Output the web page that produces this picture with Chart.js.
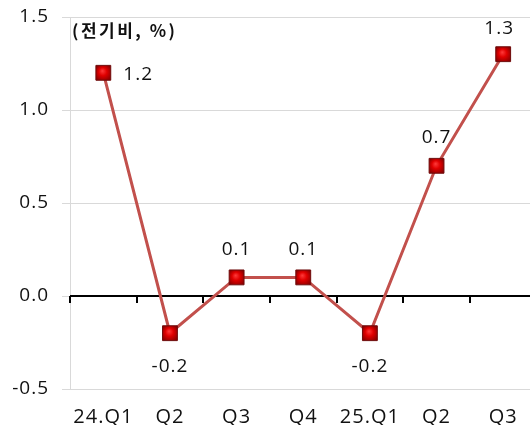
<!DOCTYPE html>
<html>
<head>
<meta charset="utf-8">
<script src="https://cdn.jsdelivr.net/npm/chart.js@4/dist/chart.umd.min.js"></script>
<style>
html,body{margin:0;padding:0;background:#fff;overflow:hidden;}
canvas{display:block;}
</style>
</head>
<body>
<canvas id="c" width="548" height="425" style="width:548px;height:425px"></canvas>
<script>
const categories = ['24.Q1','Q2','Q3','Q4','25.Q1','Q2','Q3'];
const values = [1.2, -0.2, 0.1, 0.1, -0.2, 0.7, 1.3];
const yTicks = [-0.5, 0.0, 0.5, 1.0, 1.5];
const unitLabel = '(전기비, %)';
const labelSide = ['right','below','above','above','below','above','above'];

const NUMFONT = "'Open Sans', 'Noto Sans', sans-serif";
const KRFONT = "'Noto Sans CJK KR', 'Noto Sans', sans-serif";

const markerFill = (ctx) => {
  const chart = ctx.chart;
  const xs = chart.scales.x, ys = chart.scales.y;
  if (!xs || !ys || ctx.type !== 'data') return '#cc0000';
  const px = xs.getPixelForValue(ctx.dataIndex);
  const py = ys.getPixelForValue(ctx.raw);
  if (!isFinite(px) || !isFinite(py)) return '#cc0000';
  const g = chart.ctx.createRadialGradient(px - 1, py - 2, 0, px, py, 9);
  g.addColorStop(0, '#ff3a3a');
  g.addColorStop(0.45, '#e00000');
  g.addColorStop(1, '#8a0000');
  return g;
};

const spacing = {
  id: 'spacing',
  beforeInit(chart) { chart.ctx.letterSpacing = '1px'; },
  beforeLayout(chart) { chart.ctx.letterSpacing = '1px'; },
  beforeDraw(chart) { chart.ctx.letterSpacing = '1px'; }
};

const extras = {
  id: 'extras',
  beforeDatasetsDraw(chart) {
    const {ctx, chartArea, scales} = chart;
    const ys = scales.y;
    const y0 = ys.getPixelForValue(0);
    ctx.save();
    ctx.strokeStyle = '#000';
    ctx.lineWidth = 2;
    ctx.beginPath();
    ctx.moveTo(chartArea.left, y0);
    ctx.lineTo(chartArea.right, y0);
    ctx.stroke();
    const n = categories.length;
    const w = (chartArea.right - chartArea.left) / n;
    for (let i = 0; i <= n; i++) {
      const x = Math.round(chartArea.left + i * w);
      ctx.beginPath();
      ctx.moveTo(x, y0);
      ctx.lineTo(x, y0 + 7);
      ctx.stroke();
    }
    ctx.fillStyle = '#111';
    ctx.font = "bold 17px " + KRFONT;
    ctx.letterSpacing = '2.5px';
    ctx.textAlign = 'left';
    ctx.textBaseline = 'middle';
    ctx.fillText(unitLabel, chartArea.left + 2, 31);
    ctx.restore();
  },
  afterDatasetsDraw(chart) {
    const {ctx} = chart;
    const meta = chart.getDatasetMeta(0);
    ctx.save();
    ctx.fillStyle = '#111';
    ctx.font = "19px " + NUMFONT;
    ctx.letterSpacing = '1px';
    ctx.textBaseline = 'middle';
    meta.data.forEach((pt, i) => {
      const txt = values[i].toFixed(1);
      const side = labelSide[i];
      if (side === 'right') {
        ctx.textAlign = 'left';
        ctx.fillText(txt, pt.x + 20, pt.y + 2);
      } else if (side === 'below') {
        ctx.textAlign = 'center';
        ctx.fillText(txt, pt.x, pt.y + 33);
      } else if (i === values.length - 1) {
        ctx.textAlign = 'center';
        ctx.fillText(txt, pt.x - 4, pt.y - 26);
      } else {
        ctx.textAlign = 'center';
        ctx.fillText(txt, pt.x, pt.y - 28);
      }
    });
    ctx.restore();
  }
};

new Chart(document.getElementById('c'), {
  type: 'line',
  data: {
    labels: categories,
    datasets: [{
      data: values,
      borderColor: '#c2504c',
      borderWidth: 3,
      pointStyle: 'rect',
      pointRadius: 10.5,
      pointHoverRadius: 10.5,
      pointBackgroundColor: markerFill,
      pointBorderColor: '#6e0b0b',
      pointBorderWidth: 1,
      tension: 0
    }]
  },
  options: {
    responsive: false,
    animation: false,
    events: [],
    layout: {padding: {top: 17, right: 0, bottom: 0, left: 0}},
    plugins: {legend: {display: false}, tooltip: {enabled: false}},
    scales: {
      x: {
        offset: true,
        grid: {display: false, drawTicks: false},
        border: {display: false},
        afterFit(scale) { scale.height = 36; },
        ticks: {color: '#111', font: {family: NUMFONT, size: 20}, padding: 16, maxRotation: 0, autoSkip: false}
      },
      y: {
        min: -0.5, max: 1.5,
        afterBuildTicks(scale) { scale.ticks = yTicks.map(v => ({value: v})); },
        afterFit(scale) { scale.width = 70; scale.paddingTop = 0; scale.paddingBottom = 0; },
        grid: {color: '#d9d9d9', lineWidth: 1, tickLength: 8},
        border: {display: true, color: '#d9d9d9'},
        ticks: {
          color: '#111', font: {family: NUMFONT, size: 19}, padding: 13,
          callback: (v) => Number(v).toFixed(1)
        }
      }
    }
  },
  plugins: [spacing, extras]
});
</script>
</body>
</html>
